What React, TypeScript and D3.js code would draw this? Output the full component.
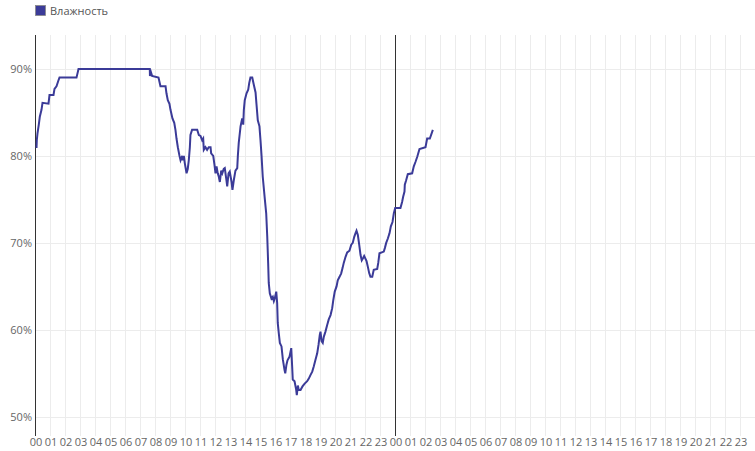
import { useEffect, useRef } from "react";
import * as d3 from "d3";

// time in hours from the start of the first day
const hours = [
	0.067, 0.087, 0.133, 0.22, 0.287, 0.4, 0.467, 0.867, 0.933, 1.2, 1.267, 1.4, 1.533, 1.6, 2.733, 2.867,
	7.62, 7.63, 7.7, 7.77, 8.2, 8.33, 8.67, 8.73, 8.82, 8.93, 9.0, 9.13, 9.25, 9.33, 9.4, 9.49, 9.6, 9.67,
	9.78, 9.82, 9.89, 9.95, 10.07, 10.15, 10.22, 10.29, 10.33, 10.44, 10.78, 10.89, 11.0, 11.11, 11.18,
	11.22, 11.33, 11.44, 11.55, 11.67, 11.71, 11.85, 11.93, 12.0, 12.07, 12.15, 12.22, 12.29, 12.38, 12.45,
	12.55, 12.62, 12.73, 12.78, 12.87, 12.95, 13.07, 13.13, 13.22, 13.33, 13.45, 13.49, 13.55, 13.67, 13.78,
	13.85, 13.89, 13.95, 14.07, 14.18, 14.25, 14.33, 14.45, 14.55, 14.67, 14.73, 14.82, 14.93, 15.0, 15.07,
	15.15, 15.29, 15.38, 15.45, 15.51, 15.55, 15.62, 15.73, 15.82, 15.89, 15.95, 16.05, 16.11, 16.15, 16.22,
	16.29, 16.4, 16.49, 16.6, 16.65, 16.73, 16.8, 16.93, 17.05, 17.11, 17.15, 17.27, 17.38, 17.42, 17.49,
	17.55, 17.67, 17.8, 17.93, 18.11, 18.22, 18.33, 18.45, 18.55, 18.67, 18.78, 18.87, 18.95, 19.0, 19.07,
	19.15, 19.22, 19.33, 19.45, 19.55, 19.67, 19.78, 19.85, 19.95, 20.07, 20.15, 20.27, 20.38, 20.47, 20.55,
	20.67, 20.78, 20.93, 21.05, 21.15, 21.25, 21.33, 21.4, 21.49, 21.58, 21.67, 21.75, 21.85, 21.91, 22.07,
	22.15, 22.25, 22.33, 22.45, 22.55, 22.78, 22.85, 22.93, 23.22, 23.29, 23.38, 23.49, 23.6, 23.69, 23.8,
	23.89, 23.98, 24.33, 24.44, 24.51, 24.6, 24.62, 24.71, 24.82, 25.11, 25.22, 25.33, 25.45, 25.6, 26.0,
	26.11, 26.29, 26.49,
];

// relative humidity, %
const humidity = [
	80.9, 81.8, 82.6, 83.6, 84.5, 85.3, 86.1, 86, 87, 87, 87.7, 88, 88.7, 89, 89, 90,
	90, 89.2, 89.6, 89.2, 89, 88, 88, 87.2, 86.4, 86, 85.3, 84.3, 83.8, 83, 82, 81, 80, 79.5,
	80, 79.5, 80, 79.2, 78, 78.5, 79.5, 81, 82.4, 83, 83, 82.4, 82.3, 81.8, 82,
	80.7, 81, 80.7, 81, 81, 80.3, 80, 79, 78, 78.8, 78, 77.6, 77, 78.3, 78,
	78.5, 78.6, 77.2, 76.5, 78, 78.2, 77, 76.1, 77.2, 78.3, 78.6, 80, 81.5, 83.4, 84.3,
	83.6, 85.3, 86.4, 87.2, 87.6, 88.4, 89, 89, 88.2, 87.3, 86, 84.1, 83.4, 81.8, 80,
	77.6, 75, 73.4, 70.7, 67.7, 65.4, 64.2, 63.6, 63.8, 63.3, 63.6, 64.4, 63.1, 60.8, 59.6,
	58.5, 58.1, 56.6, 55.4, 55, 56, 56.5, 56.9, 57.9, 55.8, 54.3, 54.1, 53.1, 52.5, 53.6,
	53.1, 53.1, 53.5, 53.8, 54.1, 54.4, 54.8, 55.2, 55.8, 56.6, 57.3, 58.3, 59.4, 59.8, 58.7,
	58.5, 59.2, 59.8, 60.6, 61.2, 61.7, 62.5, 63.4, 64.4, 65, 65.7, 66.1, 66.5, 67.1, 67.7,
	68.4, 68.9, 69.1, 69.8, 70, 70.7, 71.1, 71.4, 70.9, 69.8, 68.6, 68, 68.3, 68.5, 67.9,
	67.3, 66.5, 66.1, 66.1, 66.9, 67, 67.7, 68.8, 69, 69.4, 70, 70.5, 71.1, 71.9, 72.4,
	73.4, 74, 74, 74.7, 75.3, 75.9, 76.7, 77.2, 77.9, 78, 78.8, 79.3, 79.9, 80.8, 81,
	82, 82, 83,
];

const yTicks = [50, 60, 70, 80, 90];
const hourTicks = d3.range(0, 48);
const hourLabels = hourTicks.map((h) => String(h % 24).padStart(2, "0"));
const dayStarts = [0, 24];
const seriesName = "Влажность";

const lineColor = "#3b3b98";
const font = "'Open Sans', sans-serif";

export default function App() {
	const svgRef = useRef<SVGSVGElement>(null);

	useEffect(() => {
		if (!svgRef.current) {
			return;
		}

		const width = 755;
		const height = 451;
		const svg = d3.select(svgRef.current);
		svg.selectAll("*").remove();

		const x = d3.scaleLinear().domain([0, 48]).range([35.5, 755.5]);
		const y = d3.scaleLinear().domain([47.8, 93.9]).range([436, 35]);

		// grid
		svg
			.append("g")
			.selectAll("line")
			.data(hourTicks.slice(1))
			.join("line")
			.attr("x1", (d) => x(d))
			.attr("x2", (d) => x(d))
			.attr("y1", 35)
			.attr("y2", 436)
			.attr("stroke", "#ececec");

		svg
			.append("g")
			.selectAll("line")
			.data(yTicks)
			.join("line")
			.attr("x1", 35)
			.attr("x2", width)
			.attr("y1", (d) => Math.round(y(d)) + 0.5)
			.attr("y2", (d) => Math.round(y(d)) + 0.5)
			.attr("stroke", "#ececec");

		// day separators (left axis + midnight)
		svg
			.append("g")
			.selectAll("line")
			.data(dayStarts)
			.join("line")
			.attr("x1", (d) => x(d))
			.attr("x2", (d) => x(d))
			.attr("y1", 35)
			.attr("y2", 436)
			.attr("stroke", "#333")
			.attr("stroke-width", 1);

		// y labels
		svg
			.append("g")
			.selectAll("text")
			.data(yTicks)
			.join("text")
			.attr("x", 32)
			.attr("y", (d) => y(d))
			.attr("dy", "0.35em")
			.attr("text-anchor", "end")
			.attr("font-family", font)
			.attr("font-size", 11)
			.attr("fill", "#666")
			.text((d) => `${d}%`);

		// x labels
		svg
			.append("g")
			.selectAll("text")
			.data(hourTicks)
			.join("text")
			.attr("x", (d) => x(d) + 0.5)
			.attr("y", 442)
			.attr("dy", "0.35em")
			.attr("text-anchor", "middle")
			.attr("font-family", font)
			.attr("font-size", 11)
			.attr("fill", "#666")
			.text((_, i) => hourLabels[i]);

		// humidity line
		const points = hours.map((h, i) => [h, humidity[i]] as [number, number]);
		const line = d3
			.line<[number, number]>()
			.x((d) => x(d[0]))
			.y((d) => y(d[1]));

		svg
			.append("path")
			.datum(points)
			.attr("d", line)
			.attr("fill", "none")
			.attr("stroke", lineColor)
			.attr("stroke-width", 2)
			.attr("stroke-linejoin", "miter");

		// legend
		const legend = svg.append("g").attr("transform", "translate(35,5)");
		legend
			.append("rect")
			.attr("x", 0.5)
			.attr("y", 0.5)
			.attr("width", 10)
			.attr("height", 10)
			.attr("fill", lineColor)
			.attr("stroke", "#888")
			.attr("stroke-width", 0.8);
		legend
			.append("text")
			.attr("x", 15)
			.attr("y", 6)
			.attr("dy", "0.35em")
			.attr("font-family", font)
			.attr("font-size", 11)
			.attr("fill", "#555")
			.text(seriesName);

		svg.attr("width", width).attr("height", height);
	}, []);

	return (
		<svg
			ref={svgRef}
			width={755}
			height={451}
			style={{ position: "absolute", left: 0, top: 0, background: "#fff" }}
		/>
	);
}
